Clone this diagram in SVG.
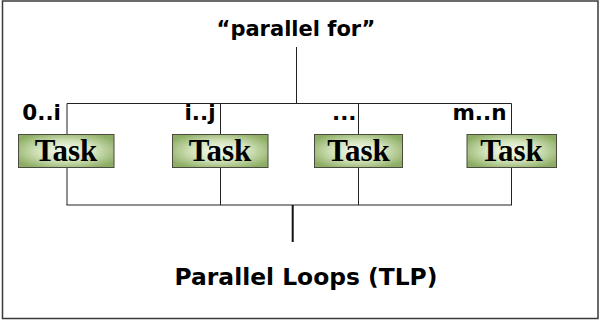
<svg xmlns="http://www.w3.org/2000/svg" width="599" height="320" viewBox="0 0 599 320">
  <defs>
    <radialGradient id="taskFill" cx="50%" cy="50%" r="60%">
      <stop offset="0" stop-color="#f6faf0"/>
      <stop offset="0.5" stop-color="#d3e3bb"/>
      <stop offset="1" stop-color="#8cad63"/>
    </radialGradient>
  </defs>
  <style>
    .frame { fill: #ffffff; stroke: #3a3a3a; stroke-width: 1.5; }
    .wire { fill: none; stroke: #222; stroke-width: 1; }
    .wire2 { fill: none; stroke: #111; stroke-width: 2; }
    .box { fill: url(#taskFill); stroke: #4a4a40; stroke-width: 1; }
    .task { font-family: "Liberation Serif", "Times New Roman", serif; font-weight: bold; font-size: 31px; fill: #000; text-anchor: middle; }
    .lbl { font-family: "DejaVu Sans", Verdana, sans-serif; font-weight: bold; font-size: 21.5px; fill: #000; text-anchor: end; }
    .title { font-family: "DejaVu Sans", Verdana, sans-serif; font-weight: bold; fill: #000; text-anchor: middle; }
  </style>

  <rect class="frame" x="2.5" y="1" width="595.5" height="317.5"/>

  <g id="title-top">
    <text class="title" x="296" y="36" font-size="21">“parallel for”</text>
  </g>

  <g id="connectors">
    <line class="wire" x1="296.5" y1="47" x2="296.5" y2="103.5"/>
    <line class="wire" x1="67" y1="103.5" x2="511.5" y2="103.5"/>
    <line class="wire" x1="67" y1="103.5" x2="67" y2="205"/>
    <line class="wire" x1="220.5" y1="103.5" x2="220.5" y2="205"/>
    <line class="wire" x1="358.5" y1="103.5" x2="358.5" y2="205"/>
    <line class="wire" x1="511.5" y1="103.5" x2="511.5" y2="205"/>
    <line class="wire" x1="66.5" y1="205" x2="512" y2="205" stroke-width="1.5"/>
    <line class="wire2" x1="292.7" y1="205" x2="292.7" y2="242"/>
  </g>

  <g id="task-0-i">
    <text class="lbl" x="61" y="120">0..i</text>
    <rect class="box" x="18.5" y="134.5" width="95.5" height="33"/>
    <text class="task" x="66" y="161">Task</text>
  </g>
  <g id="task-i-j">
    <text class="lbl" x="215.5" y="120">i..j</text>
    <rect class="box" x="172.5" y="134.5" width="95.5" height="33"/>
    <text class="task" x="220" y="161">Task</text>
  </g>
  <g id="task-dots">
    <text class="lbl" x="356.5" y="120">...</text>
    <rect class="box" x="314.5" y="134.5" width="88" height="33"/>
    <text class="task" x="358.5" y="161">Task</text>
  </g>
  <g id="task-m-n">
    <text class="lbl" x="506.5" y="120">m..n</text>
    <rect class="box" x="467" y="134.5" width="89.5" height="33"/>
    <text class="task" x="511.5" y="161">Task</text>
  </g>

  <g id="title-bottom">
    <text class="title" x="306" y="285" font-size="23.4">Parallel Loops (TLP)</text>
  </g>
</svg>
